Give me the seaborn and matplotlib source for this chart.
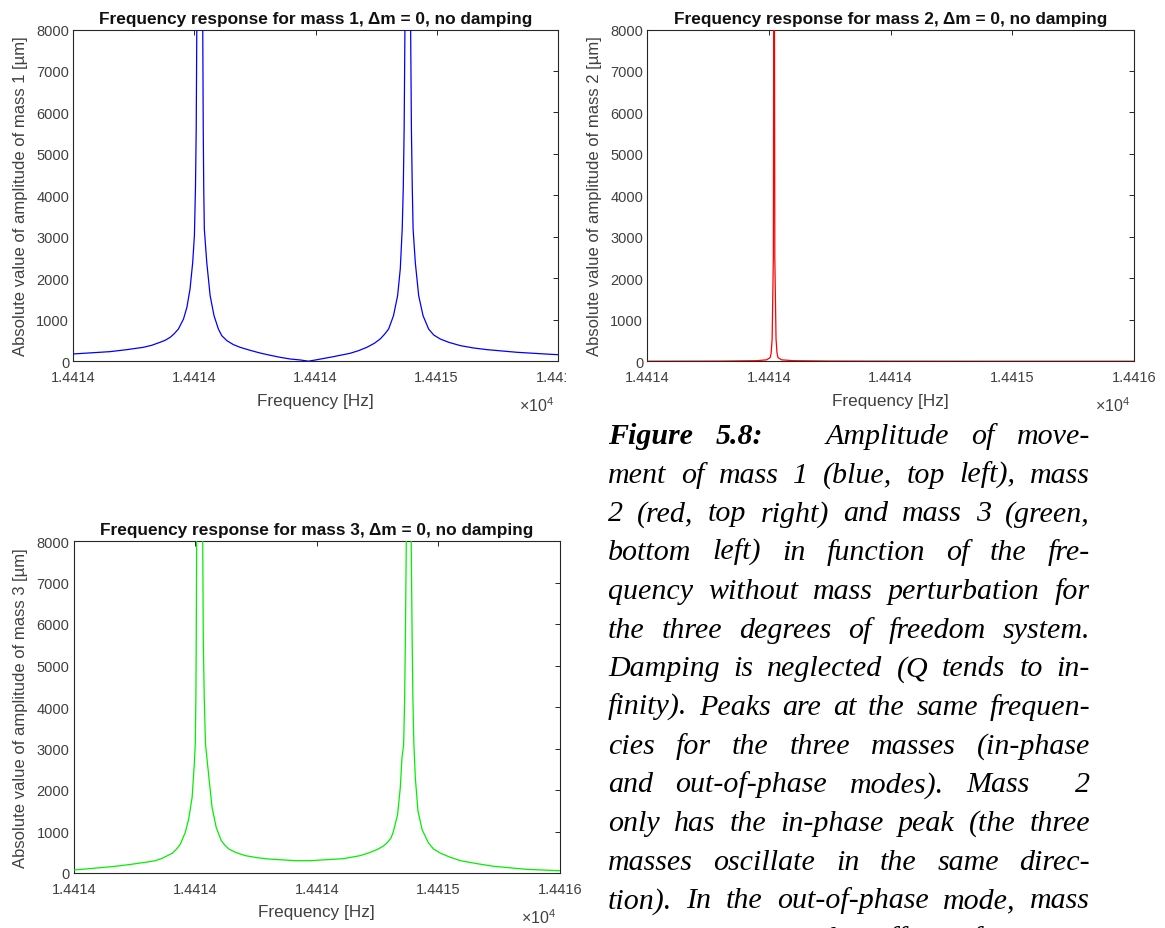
import matplotlib
matplotlib.use("Agg")
import matplotlib.pyplot as plt
import numpy as np
import pandas as pd
import seaborn as sns
from matplotlib.transforms import Bbox, TransformedBbox

# ---------------------------------------------------------------------------
# Frequency sweep [Hz] and absolute response amplitude [um] of each mass
# (three degrees of freedom, no mass perturbation, no damping)
# ---------------------------------------------------------------------------
freq_m1 = [14413.500, 14413.652, 14413.721, 14413.789, 14413.824, 14413.858,
           14413.879, 14413.900, 14413.917, 14413.934, 14413.955, 14413.969,
           14413.982, 14413.993, 14414.000, 14414.0045, 14414.0075, 14414.0105,
           14414.0225, 14414.0340, 14414.0365, 14414.0385, 14414.0410,
           14414.051, 14414.065, 14414.081, 14414.099, 14414.113, 14414.134,
           14414.161, 14414.189, 14414.230, 14414.271, 14414.313, 14414.354,
           14414.395, 14414.437, 14414.471, 14414.500, 14414.574, 14414.643,
           14414.678, 14414.712, 14414.743, 14414.767, 14414.785, 14414.802,
           14414.822, 14414.839, 14414.850, 14414.858, 14414.8625, 14414.866,
           14414.870, 14414.881, 14414.892, 14414.896, 14414.8995, 14414.903,
           14414.912, 14414.926, 14414.944, 14414.967, 14414.988, 14415.015,
           14415.050, 14415.098, 14415.153, 14415.208, 14415.332, 14415.470,
           14415.500]
amp_m1 = [177, 233, 281, 337, 386, 458, 506, 578, 667, 779, 1020, 1301, 1743,
          2386, 3028, 4200, 5600, 8600, 30000, 8600, 5600, 4200, 3190, 2386,
          1582, 1100, 779, 618, 498, 402, 337, 265, 200, 145, 96, 56, 32, 3,
          32, 112, 193, 257, 337, 434, 538, 651, 779, 1100, 1582, 2225, 3189,
          4200, 5600, 8600, 30000, 8600, 5600, 4200, 3189, 2386, 1582, 1100,
          779, 635, 538, 458, 378, 321, 281, 217, 169, 160]

freq_m2 = [14413.500, 14413.800, 14413.950, 14413.990, 14414.005, 14414.009,
           14414.013, 14414.018, 14414.0195, 14414.021, 14414.0225, 14414.024,
           14414.029, 14414.033, 14414.037, 14414.052, 14414.100, 14414.250,
           14414.500, 14414.880, 14415.000, 14415.500]
amp_m2 = [2, 5, 15, 35, 90, 200, 540, 2500, 8500, 30000, 8500, 2500,
          540, 200, 90, 35, 15, 6, 3, 1, 1, 1]

freq_m3 = [14413.500, 14413.658, 14413.726, 14413.795, 14413.836, 14413.863,
           14413.905, 14413.922, 14413.939, 14413.959, 14413.973, 14413.987,
           14413.996, 14414.000, 14414.0025, 14414.0040, 14414.006, 14414.018,
           14414.030, 14414.033, 14414.037, 14414.042, 14414.056, 14414.069,
           14414.086, 14414.107, 14414.121, 14414.138, 14414.165, 14414.206,
           14414.254, 14414.302, 14414.412, 14414.472, 14414.609, 14414.678,
           14414.712, 14414.747, 14414.772, 14414.788, 14414.805, 14414.815,
           14414.832, 14414.843, 14414.850, 14414.857, 14414.861, 14414.864,
           14414.869, 14414.878, 14414.887, 14414.892, 14414.895, 14414.899,
           14414.905, 14414.916, 14414.933, 14414.959, 14414.980, 14415.007,
           14415.042, 14415.090, 14415.159, 14415.227, 14415.364, 14415.500]
amp_m3 = [72, 153, 201, 257, 297, 353, 474, 570, 699, 980, 1301, 1823, 2627,
          3108, 4200, 5600, 8600, 30000, 8600, 5600, 4200, 3108, 2305, 1582,
          1100, 779, 675, 578, 498, 418, 369, 337, 297, 297, 345, 418, 482,
          562, 643, 723, 843, 1004, 1406, 2048, 2771, 3092, 4200, 5600, 8600,
          30000, 8600, 5600, 4200, 3108, 2289, 1486, 1044, 723, 578, 482, 394,
          297, 225, 161, 88, 55]

x_ticks = [14413.5, 14414.0, 14414.5, 14415.0, 14415.5]
x_tick_labels = ["1.4414", "1.4414", "1.4414", "1.4415", "1.4416"]
y_ticks = [0, 1000, 2000, 3000, 4000, 5000, 6000, 7000, 8000]

titles = ["Frequency response for mass 1, \u0394m = 0, no damping",
          "Frequency response for mass 2, \u0394m = 0, no damping",
          "Frequency response for mass 3, \u0394m = 0, no damping"]
ylabels = ["Absolute value of amplitude of mass 1 [\u00b5m]",
           "Absolute value of amplitude of mass 2 [\u00b5m]",
           "Absolute value of amplitude of mass 3 [\u00b5m]"]
xlabel = "Frequency [Hz]"
line_colors = ["#0000ff", "#ff0000", "#00f000"]

caption_lines = [
    "Figure 5.8: Amplitude of move-",
    "ment of mass 1 (blue, top left), mass",
    "2 (red, top right) and mass 3 (green,",
    "bottom left) in function of the fre-",
    "quency without mass perturbation for",
    "the three degrees of freedom system.",
    "Damping is neglected (Q tends to in-",
    "finity). Peaks are at the same frequen-",
    "cies for the three masses (in-phase",
    "and out-of-phase modes). Mass 2",
    "only has the in-phase peak (the three",
    "masses oscillate in the same direc-",
    "tion). In the out-of-phase mode, mass",
    "2 is static, i.e. the effect of mass 1",
]
caption_bold = {(0, 0), (0, 1)}          # "Figure 5.8:"
caption_wide_gaps = {(0, 1): 2.8, (9, 3): 2.0}

# ---------------------------------------------------------------------------
sns.set_theme(style="white")
plt.rcParams["font.family"] = ["Liberation Sans", "DejaVu Sans"]
plt.rcParams["mathtext.fontset"] = "custom"
plt.rcParams["mathtext.rm"] = "Liberation Sans"

W, H = 1165, 929
fig = plt.figure(figsize=(W / 100, H / 100), dpi=100)
fig.patch.set_facecolor("white")


def axes_px(x0, x1, y0, y1):
    """Axes from pixel edges (y measured from the top)."""
    return fig.add_axes([x0 / W, 1 - y1 / H, (x1 - x0) / W, (y1 - y0) / H])


panels = [
    ((73.3, 557.7, 30.5, 362.3), freq_m1, amp_m1),
    ((647.3, 1134.0, 30.5, 362.3), freq_m2, amp_m2),
    ((73.7, 560.0, 542.0, 874.0), freq_m3, amp_m3),
]

axes = []
for i, (rect, f, a) in enumerate(panels):
    ax = axes_px(*rect)
    df = pd.DataFrame({"Frequency": f, "Amplitude": a})
    sns.lineplot(data=df, x="Frequency", y="Amplitude", ax=ax,
                 color=line_colors[i], linewidth=0.9, estimator=None,
                 zorder=3)
    ax.set_xlim(x_ticks[0], x_ticks[-1])
    ax.set_ylim(y_ticks[0], y_ticks[-1])
    ax.set_xticks(x_ticks)
    ax.set_xticklabels(x_tick_labels)
    ax.set_yticks(y_ticks)
    ax.set_yticklabels([str(v) for v in y_ticks])
    ax.tick_params(direction="in", top=True, right=True, length=3.5,
                   width=0.7, colors="#262626", labelcolor="#404040",
                   labelsize=10.5)
    ax.tick_params(axis="x", pad=6.5)
    ax.tick_params(axis="y", pad=3)
    for s in ax.spines.values():
        s.set_visible(True)
        s.set_color("#262626")
        s.set_linewidth(0.8)
    ax.set_xlabel(xlabel, fontsize=12.3, color="#404040", labelpad=6)
    ax.set_ylabel(ylabels[i], fontsize=12.0, color="#404040", labelpad=6)
    ax.set_title(titles[i], fontsize=12.4, fontweight="bold",
                 color="#111111", pad=5)
    ax_w = rect[1] - rect[0]
    ax.text(1.0 - 4 / ax_w, -0.13, r"$\mathregular{\times10^{4}}$",
            transform=ax.transAxes, ha="right", va="center",
            fontsize=11.5, color="#404040")
    axes.append(ax)

# the upper-left panel's last tick label is cut by the neighbouring panel
last_lbl = axes[0].xaxis.get_major_ticks()[-1].label1
last_lbl.set_clip_box(TransformedBbox(Bbox.from_extents(0, 0, 566 / W, 1),
                                      fig.transFigure))
last_lbl.set_clip_on(True)

# ---------------------------------------------------------------------------
# Justified italic caption
# ---------------------------------------------------------------------------
renderer = fig.canvas.get_renderer()
cap_family = "Liberation Serif"
cap_left, cap_right = 608.0, 1090.0
cap_first_baseline, cap_step = 444.0, 38.7


def word_width(word, bold, fs):
    t = fig.text(0, 0, word, fontsize=fs, family=cap_family, style="italic",
                 fontweight="bold" if bold else "normal")
    w = t.get_window_extent(renderer=renderer).width
    t.remove()
    return w


base_fs = 20.0
natural = []
for li, line in enumerate(caption_lines):
    words = line.split(" ")
    ws = [word_width(w, (li, k) in caption_bold, base_fs) for k, w in enumerate(words)]
    natural.append(sum(ws) + 0.25 * base_fs * 100 / 72 * (len(words) - 1))
cap_fs = base_fs * min(1.08, (cap_right - cap_left) / max(natural))

for li, line in enumerate(caption_lines):
    words = line.split(" ")
    bolds = [(li, k) in caption_bold for k in range(len(words))]
    ws = [word_width(w, b, cap_fs) for w, b in zip(words, bolds)]
    weights = [caption_wide_gaps.get((li, k), 1.0) for k in range(len(words) - 1)]
    gap = (cap_right - cap_left - sum(ws)) / sum(weights)
    x = cap_left
    y = cap_first_baseline + li * cap_step
    for k, (w, b, wd) in enumerate(zip(words, bolds, ws)):
        fig.text(x / W, 1 - y / H, w, fontsize=cap_fs, family=cap_family,
                 style="italic", fontweight="bold" if b else "normal",
                 color="black", ha="left", va="baseline")
        if k < len(weights):
            x += wd + gap * weights[k]

fig.savefig("out.png", dpi=100)
